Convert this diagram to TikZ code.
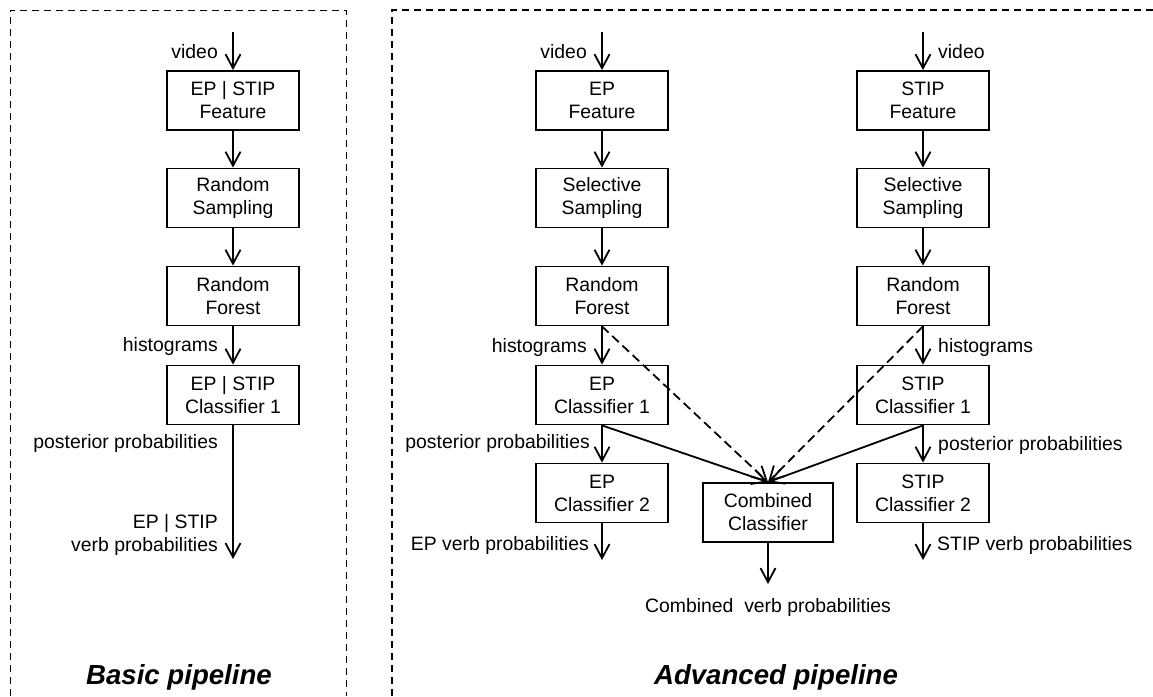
\documentclass[tikz,border=0pt]{standalone}
\usepackage{fontspec}
\setmainfont{Liberation Sans}
\usetikzlibrary{arrows.meta}
\begin{document}
\begin{tikzpicture}[x=1pt,y=-1pt,
  box/.style={draw,line width=1.8pt,minimum width=132pt,minimum height=59pt,inner sep=0pt,align=center,font=\fontsize{19.4}{23}\selectfont},
  lbl/.style={inner sep=0pt,align=right,font=\fontsize{19.4}{23}\selectfont},
  lblr/.style={inner sep=0pt,align=left,font=\fontsize{19.4}{23}\selectfont},
  ttl/.style={inner sep=0pt,font=\fontsize{27.6}{32}\selectfont\bfseries\itshape},
  conn/.style={line width=1.8pt,-{Straight Barb[length=14pt,width=15pt,line width=1.8pt]}},
  dconn/.style={conn,dash pattern=on 9pt off 5pt},
  frame/.style={line width=1.2pt,dash pattern=on 7pt off 5pt}]
\useasboundingbox (0,0) rectangle (1153,696);
% frames
\draw[frame,line width=0.9pt] (10,696) -- (10,10) -- (346,10) -- (346,696);
\draw[frame] (392,696) -- (392,10) -- (1153,10);
% basic pipeline
\node[box] (bf) at (233,100.5) {EP | STIP\\Feature};
\node[box] (bs) at (233,198) {Random\\Sampling};
\node[box] (br) at (233,296) {Random\\Forest};
\node[box] (bc1) at (233,395) {EP | STIP\\Classifier 1};
\coordinate (bin) at (233,32);
\coordinate (bout) at (233,559);
\draw[conn] (bin) -- (bf.north);
\draw[conn] (bf.south) -- (bs.north);
\draw[conn] (bs.south) -- (br.north);
\draw[conn] (br.south) -- (bc1.north);
\draw[conn] (bc1.south) -- (bout);
\node[lbl,anchor=east] (bl1) at (218,52) {video};
\node[lbl,anchor=east] (bl2) at (218,346) {histograms};
\node[lbl,anchor=east] (bl3) at (218,443) {posterior probabilities};
\node[lbl,anchor=east] (bl4) at (218,535) {EP | STIP\\verb probabilities};
\node[ttl] (bt) at (179,677) {Basic pipeline};
% advanced EP
\node[box] (ef) at (602,100.5) {EP\\Feature};
\node[box] (es) at (602,198) {Selective\\Sampling};
\node[box] (er) at (602,296) {Random\\Forest};
\node[box] (ec1) at (602,395) {EP\\Classifier 1};
\node[box] (ec2) at (602,493) {EP\\Classifier 2};
\coordinate (ein) at (602,32);
\coordinate (eout) at (602,560);
\draw[conn] (ein) -- (ef.north);
\draw[conn] (ef.south) -- (es.north);
\draw[conn] (es.south) -- (er.north);
\draw[conn] (er.south) -- (ec1.north);
\draw[conn] (ec1.south) -- (ec2.north);
\draw[conn] (ec2.south) -- (eout);
\node[lbl,anchor=east] (el1) at (587,52) {video};
\node[lbl,anchor=east] (el2) at (587,347) {histograms};
\node[lbl,anchor=east] (el3) at (590,443) {posterior probabilities};
\node[lbl,anchor=east] (el4) at (589,545) {EP verb probabilities};
% advanced STIP
\node[box] (sf) at (923,100.5) {STIP\\Feature};
\node[box] (ss) at (923,198) {Selective\\Sampling};
\node[box] (sr) at (923,296) {Random\\Forest};
\node[box] (sc1) at (923,395) {STIP\\Classifier 1};
\node[box] (sc2) at (923,493) {STIP\\Classifier 2};
\coordinate (sin) at (923,32);
\coordinate (sout) at (923,560);
\draw[conn] (sin) -- (sf.north);
\draw[conn] (sf.south) -- (ss.north);
\draw[conn] (ss.south) -- (sr.north);
\draw[conn] (sr.south) -- (sc1.north);
\draw[conn] (sc1.south) -- (sc2.north);
\draw[conn] (sc2.south) -- (sout);
\node[lblr,anchor=west] (sl1) at (938,52) {video};
\node[lblr,anchor=west] (sl2) at (938,347) {histograms};
\node[lblr,anchor=west] (sl3) at (938,445) {posterior probabilities};
\node[lblr,anchor=west] (sl4) at (937,545) {STIP verb probabilities};
% combined
\node[box,minimum width=130pt] (cc) at (768,512.5) {Combined\\Classifier};
\coordinate (cout) at (768,584);
\draw[conn] (cc.south) -- (cout);
\draw[conn] (ec1.south) -- (cc.north);
\draw[conn] (sc1.south) -- (cc.north);
\draw[dconn] (er.south) -- (cc.north);
\draw[dconn] (sr.south) -- (cc.north);
\node[lbl,align=center] (cl) at (768,607) {Combined\ \ verb probabilities};
\node[ttl] (at) at (776,677) {Advanced pipeline};
\end{tikzpicture}
\end{document}
